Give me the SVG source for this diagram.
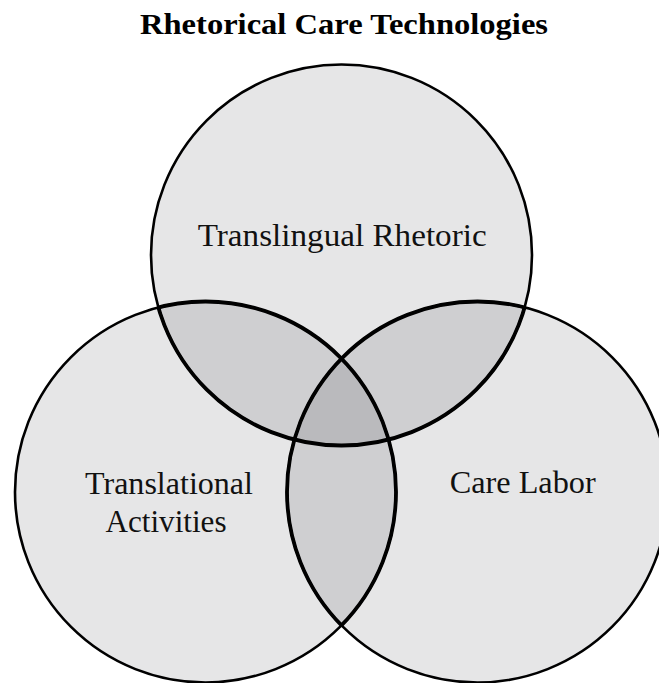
<svg xmlns="http://www.w3.org/2000/svg" width="659" height="683" viewBox="0 0 659 683">
  <style>
    .set { fill: rgb(12,12,18); fill-opacity: 0.1; stroke: #000; stroke-width: 2.6; }
    .inner { fill: none; stroke: #000; stroke-width: 3.8; }
    .label { font-family: "Liberation Serif", "Times New Roman", serif; font-size: 31.5px; fill: #111; text-anchor: middle; }
    .title { font-family: "Liberation Serif", "Times New Roman", serif; font-size: 30px; font-weight: bold; fill: #000; text-anchor: middle; }
  </style>
  <defs>
    <!-- regions used to pick out the arcs that run inside another set -->
    <clipPath id="clip-left-right">
      <circle cx="205.5" cy="492" r="190.5"/>
      <circle cx="477.5" cy="492" r="190.5"/>
    </clipPath>
    <clipPath id="clip-top-right">
      <circle cx="341.5" cy="255" r="190.5"/>
      <circle cx="477.5" cy="492" r="190.5"/>
    </clipPath>
    <clipPath id="clip-top-left">
      <circle cx="341.5" cy="255" r="190.5"/>
      <circle cx="205.5" cy="492" r="190.5"/>
    </clipPath>
  </defs>

  <rect width="659" height="683" fill="#fff"/>

  <text class="title" x="344" y="34" textLength="408" lengthAdjust="spacingAndGlyphs">Rhetorical Care Technologies</text>

  <g id="translingual-rhetoric">
    <circle class="set" cx="341.5" cy="255" r="190.5"/>
  </g>
  <g id="translational-activities">
    <circle class="set" cx="205.5" cy="492" r="190.5"/>
  </g>
  <g id="care-labor">
    <circle class="set" cx="477.5" cy="492" r="190.5"/>
  </g>

  <!-- heavier outline where the sets overlap -->
  <g id="overlap-outlines">
    <circle class="inner" cx="341.5" cy="255" r="190.5" clip-path="url(#clip-left-right)"/>
    <circle class="inner" cx="205.5" cy="492" r="190.5" clip-path="url(#clip-top-right)"/>
    <circle class="inner" cx="477.5" cy="492" r="190.5" clip-path="url(#clip-top-left)"/>
  </g>

  <g id="labels">
    <text class="label" x="342.2" y="246" textLength="289" lengthAdjust="spacingAndGlyphs">Translingual Rhetoric</text>
    <text class="label" x="169" y="494" textLength="168" lengthAdjust="spacingAndGlyphs">Translational</text>
    <text class="label" x="166" y="531.5" textLength="121" lengthAdjust="spacingAndGlyphs">Activities</text>
    <text class="label" x="522.7" y="493" textLength="146" lengthAdjust="spacingAndGlyphs">Care Labor</text>
  </g>
</svg>
